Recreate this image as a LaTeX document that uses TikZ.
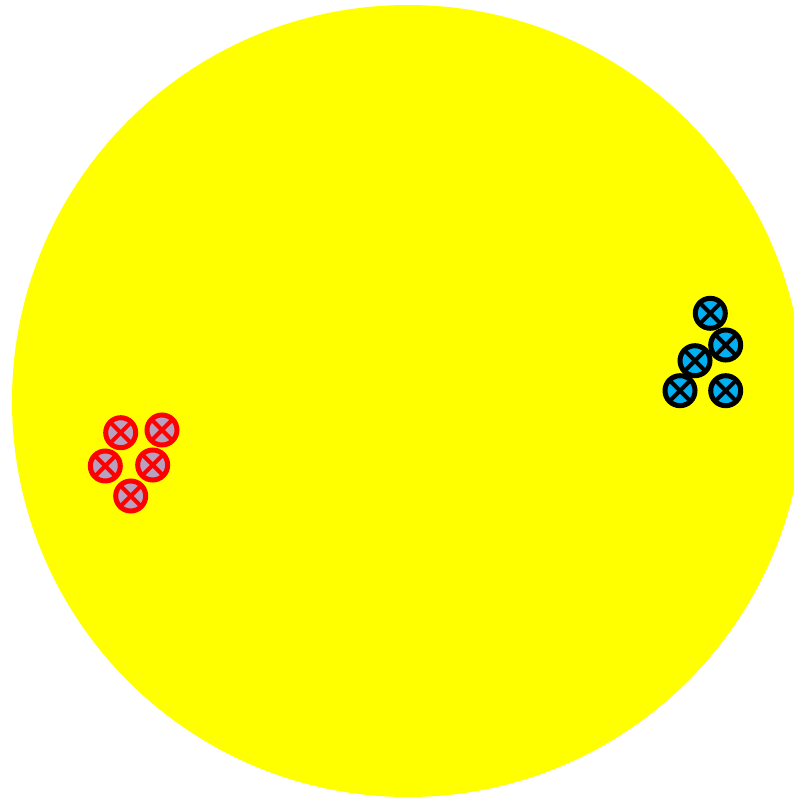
\documentclass[tikz,border=0pt]{standalone}
\definecolor{bigyellow}{RGB}{255,255,0}
\definecolor{markred}{RGB}{255,0,0}
\definecolor{redfill}{RGB}{184,160,192}
\definecolor{bluefill}{RGB}{0,176,240}
\tikzset{
  mark base/.style={circle, minimum size=30pt, inner sep=0pt, line width=5pt,
    path picture={\draw[line width=4pt, draw=#1]
      (path picture bounding box.south west) -- (path picture bounding box.north east)
      (path picture bounding box.north west) -- (path picture bounding box.south east);}},
  redmark/.style={mark base=markred, draw=markred, fill=redfill},
  bluemark/.style={mark base=black, draw=black, fill=bluefill}
}
\begin{document}
\begin{tikzpicture}[x=1pt,y=-1pt]
\useasboundingbox (0,0) rectangle (794,797);
\begin{scope}
\clip (0,0) rectangle (794,797);
\fill[bigyellow] (408,401) circle (396);
\end{scope}
\node[redmark] (r1) at (120.7,432.7) {};
\node[redmark] (r2) at (162,430) {};
\node[redmark] (r3) at (105.3,466) {};
\node[redmark] (r4) at (152.7,465) {};
\node[redmark] (r5) at (130.7,496) {};
\node[bluemark] (b1) at (710.3,313.3) {};
\node[bluemark] (b2) at (725.7,345) {};
\node[bluemark] (b3) at (695,360.7) {};
\node[bluemark] (b4) at (680,390.7) {};
\node[bluemark] (b5) at (725.7,390.7) {};
\end{tikzpicture}
\end{document}
